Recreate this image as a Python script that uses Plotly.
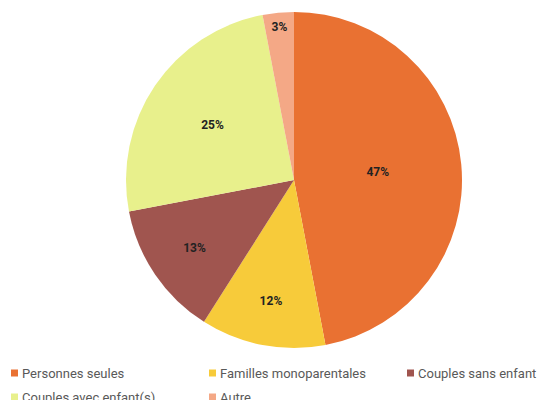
import plotly.graph_objects as go

categories = ["Personnes seules", "Familles monoparentales", "Couples sans enfant", "Couples avec enfant(s)", "Autre"]
values = [47, 12, 13, 25, 3]
colors = ["#E97132", "#F7CB3A", "#A0554F", "#E8F08C", "#F4A886"]

W, H = 539, 400
cx, cy, r = 294, 180, 168

fig = go.Figure(go.Pie(
    labels=categories,
    values=values,
    sort=False,
    direction="clockwise",
    rotation=0,
    marker=dict(colors=colors, line=dict(width=0)),
    texttemplate="<b>%{value}%</b>",
    textposition="inside",
    insidetextorientation="horizontal",
    textfont=dict(family="Roboto", size=12, color="#222222"),
    hoverinfo="label+percent",
    showlegend=False,
    domain=dict(x=[(cx - r) / W, (cx + r) / W], y=[1 - (cy + r) / H, 1 - (cy - r) / H]),
))

# custom legend (3 columns, wraps like the reference)
col_x = [11, 209, 407]
row_y = [373, 397]
shapes, annotations = [], []
for i, (name, col) in enumerate(zip(categories, colors)):
    cxw = col_x[i % 3]
    ryw = row_y[i // 3]
    shapes.append(dict(
        type="rect", xref="paper", yref="paper",
        x0=cxw / W, x1=(cxw + 7) / W,
        y0=1 - (ryw + 3.5) / H, y1=1 - (ryw - 3.5) / H,
        fillcolor=col, line=dict(width=0),
    ))
    annotations.append(dict(
        text=name, xref="paper", yref="paper",
        x=(cxw + 9) / W, y=1 - ryw / H,
        xanchor="left", yanchor="middle", showarrow=False,
        font=dict(family="Roboto", size=13, color="#595959"),
    ))

fig.update_layout(
    width=W, height=H,
    margin=dict(l=0, r=0, t=0, b=0, autoexpand=False),
    paper_bgcolor="white",
    font=dict(family="Roboto", size=13, color="#595959"),
    uniformtext=dict(minsize=12, mode="show"),
    shapes=shapes,
    annotations=annotations,
)

fig.write_html(
    "out.html",
    config={"displayModeBar": False},
    post_script="document.body.style.margin='0';document.body.style.overflow='hidden';",
)
